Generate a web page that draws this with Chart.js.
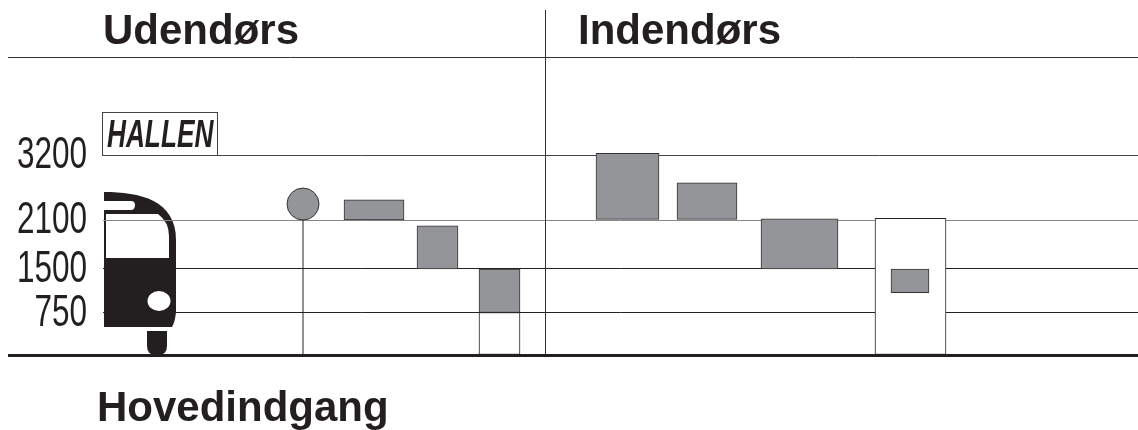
<!DOCTYPE html>
<html>
<head>
<meta charset="utf-8">
<title>Hallen</title>
<script src="https://cdn.jsdelivr.net/npm/chart.js@4"></script>
<style>
    html, body { margin: 0; padding: 0; background: #fff; }
    #wrap { position: relative; width: 1138px; height: 430px; }
    canvas { display: block; }
</style>
</head>
<body>
<div id="wrap"><canvas id="myChart" width="1138" height="430"></canvas></div>
<script>
// Overskrifter og skilt
const headerOutdoor = "Udendørs";
const headerIndoor = "Indendørs";
const footerEntrance = "Hovedindgang";
const signText = "HALLEN";

// Højder på y-aksen (ikke lineær i tegningen)
const tickValues = [0, 750, 1500, 2100, 3200];
const tickLabels = ["", "750", "1500", "2100", "3200"];
const axisTop = 4400;
const axisStops = [0, 0.1426, 0.2886, 0.453, 0.671, 1];

// Grå felter: fra/til langs x og fra/til i højden
const barFrom = [344, 417, 479, 596, 677, 761, 891];
const barTo = [404, 458, 520, 659, 737, 838, 929];
const barLow = [2100, 1500, 750, 2110, 2110, 1500, 1090];
const barHigh = [2440, 2030, 1500, 3220, 2730, 2120, 1500];

// Hvide døre
const doorFrom = [479, 875];
const doorTo = [520, 946];
const doorHigh = [750, 2130];

// Rundt skilt på pæl
const poleX = 303;
const poleTop = 2100;
const signalHeight = 2370;

// Skala hvor hver tick får sin egen plads
class BandScale extends Chart.LinearScale {
    getPixelForValue(value) {
        const stops = [...tickValues, axisTop];
        let i = 0;
        while (i < stops.length - 2 && value > stops[i + 1]) i++;
        const t = (value - stops[i]) / (stops[i + 1] - stops[i]);
        return this.getPixelForDecimal(axisStops[i] + t * (axisStops[i + 1] - axisStops[i]));
    }
}
BandScale.id = "band";
BandScale.defaults = {};
Chart.register(BandScale);

function drawBus(ctx) {
    ctx.save();
    ctx.fillStyle = "#231f20";
    ctx.beginPath();
    ctx.moveTo(104, 192);
    ctx.bezierCurveTo(140, 192, 176, 200, 176, 240);
    ctx.lineTo(176, 312);
    ctx.quadraticCurveTo(175, 322, 172, 327);
    ctx.lineTo(104, 327);
    ctx.closePath();
    ctx.fill();
    // hjul
    ctx.beginPath();
    ctx.moveTo(147, 331);
    ctx.lineTo(167, 331);
    ctx.lineTo(167, 346);
    ctx.quadraticCurveTo(167, 355, 158, 355);
    ctx.lineTo(156, 355);
    ctx.quadraticCurveTo(147, 355, 147, 346);
    ctx.closePath();
    ctx.fill();
    ctx.fillStyle = "#fff";
    // forrude
    ctx.beginPath();
    ctx.moveTo(106, 214);
    ctx.lineTo(158, 214);
    ctx.quadraticCurveTo(169, 222, 169, 236);
    ctx.lineTo(169, 258);
    ctx.lineTo(106, 258);
    ctx.closePath();
    ctx.fill();
    // lille rude foroven
    ctx.beginPath();
    ctx.moveTo(104, 201);
    ctx.lineTo(131, 201);
    ctx.quadraticCurveTo(135, 201, 135, 205);
    ctx.quadraticCurveTo(135, 210, 131, 210);
    ctx.lineTo(104, 210);
    ctx.closePath();
    ctx.fill();
    // lygte
    ctx.beginPath();
    ctx.ellipse(159, 301, 11.5, 10, 0, 0, Math.PI * 2);
    ctx.fill();
    ctx.restore();
}

const sceneryBack = {
    id: "sceneryBack",
    beforeDraw(chart) {
        drawBus(chart.ctx);
    }
};

const sceneryFront = {
    id: "sceneryFront",
    afterDraw(chart) {
        const ctx = chart.ctx;
        const y = chart.scales.y;
        const x = chart.scales.x;
        const base = y.getPixelForValue(0);
        const top = y.top;
        ctx.save();

        // linjer
        ctx.strokeStyle = "#333";
        ctx.lineWidth = 1;
        ctx.beginPath();
        ctx.moveTo(8, top + 0.5);
        ctx.lineTo(1138, top + 0.5);
        ctx.moveTo(x.getPixelForValue(545) + 0.5, 10);
        ctx.lineTo(x.getPixelForValue(545) + 0.5, base);
        ctx.stroke();
        ctx.strokeStyle = "#231f20";
        ctx.lineWidth = 3;
        ctx.beginPath();
        ctx.moveTo(8, base + 0.5);
        ctx.lineTo(1138, base + 0.5);
        ctx.stroke();

        // overskrifter
        ctx.fillStyle = "#231f20";
        ctx.textBaseline = "alphabetic";
        ctx.textAlign = "left";
        ctx.font = "bold 42px 'Liberation Sans'";
        ctx.fillText(headerOutdoor, 103, 44);
        ctx.fillText(headerIndoor, 578, 44);
        ctx.fillText(footerEntrance, 97, 421);

        // tick-tekster, smalle som i originalen
        ctx.font = "45px 'Liberation Sans'";
        ctx.textAlign = "right";
        y.ticks.forEach((tick, i) => {
            if (!tickLabels[i]) return;
            ctx.save();
            ctx.translate(87, y.getPixelForTick(i) + 13);
            ctx.scale(0.7, 1);
            ctx.fillText(tickLabels[i], 0, 0);
            ctx.restore();
        });

        // skilt
        ctx.strokeStyle = "#444";
        ctx.lineWidth = 1;
        ctx.strokeRect(102.5, 112.5, 115, 43);
        ctx.fillStyle = "#231f20";
        ctx.font = "italic bold 38px 'Liberation Sans'";
        ctx.textAlign = "left";
        ctx.save();
        ctx.translate(107, 147);
        ctx.scale(0.69, 1);
        ctx.fillText(signText, 0, 0);
        ctx.restore();
        ctx.restore();
    }
};

const barSets = barFrom.map((from, i) => ({
    type: "bar",
    data: [{ x: (from + barTo[i]) / 2, y: [barLow[i], barHigh[i]] }],
    barThickness: barTo[i] - from,
    grouped: false,
    backgroundColor: "#939598",
    borderColor: "#333",
    borderWidth: 1,
    borderSkipped: false
}));

const doorSets = doorFrom.map((from, i) => ({
    type: "bar",
    data: [{ x: (from + doorTo[i]) / 2, y: [0, doorHigh[i]] }],
    barThickness: doorTo[i] - from,
    grouped: false,
    backgroundColor: "#fff",
    borderColor: "#222",
    borderWidth: 1,
    borderSkipped: false
}));

const signalSets = [
    {
        type: "line",
        data: [{ x: poleX, y: signalHeight }],
        pointRadius: 16,
        pointBackgroundColor: "#939598",
        pointBorderColor: "#333",
        pointBorderWidth: 1,
        showLine: false
    },
    {
        type: "line",
        data: [{ x: poleX, y: 0 }, { x: poleX, y: poleTop }],
        pointRadius: 0,
        borderColor: "#222",
        borderWidth: 1
    }
];

new Chart(document.getElementById("myChart"), {
    type: "bar",
    data: { datasets: [...barSets, ...signalSets, ...doorSets] },
    options: {
        responsive: false,
        animation: false,
        layout: { autoPadding: false, padding: { left: 103, right: 0, top: 57, bottom: 75 } },
        plugins: { legend: { display: false }, tooltip: { enabled: false } },
        scales: {
            x: { type: "linear", display: false, offset: false, min: 103, max: 1138 },
            y: {
                type: "band",
                min: 0,
                max: axisTop,
                afterBuildTicks(scale) {
                    scale.ticks = tickValues.map(v => ({ value: v }));
                },
                afterFit(scale) {
                    scale.width = 0;
                },
                ticks: { display: false },
                border: { display: false },
                grid: {
                    drawTicks: false,
                    lineWidth: 1,
                    color(c) {
                        if (c.tick && c.tick.value === 2100) return "#888";
                        if (c.tick && c.tick.value === 3200) return "#444";
                        return "#222";
                    }
                }
            }
        }
    },
    plugins: [sceneryBack, sceneryFront]
});
</script>
</body>
</html>
